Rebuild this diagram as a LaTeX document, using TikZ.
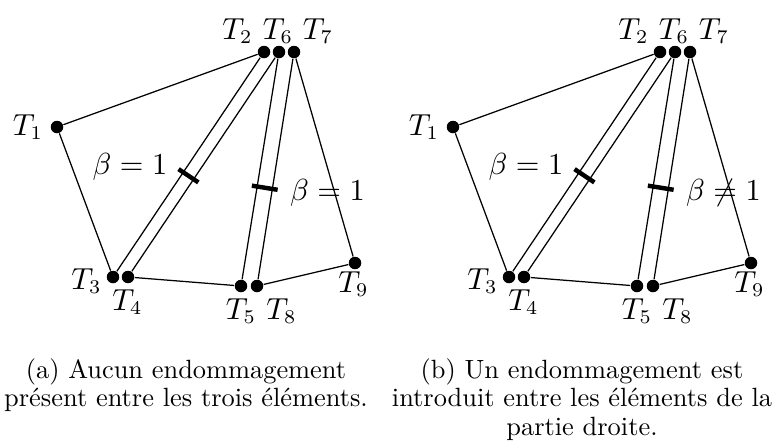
\documentclass[tikz,border=0pt]{standalone}
\usepackage{amsmath, amssymb}
\usepackage{tikz}
\usetikzlibrary{calc}

\tikzset{
  joint/.style={circle, fill=black, inner sep=0pt, minimum size=4.5pt},
  member/.style={line width=0.45pt},
  damagebar/.style={line width=1.6pt},
  ptlabel/.style={inner sep=0pt, font=\fontsize{10.5}{12}\selectfont},
  betalabel/.style={inner sep=0pt, font=\fontsize{11}{13}\selectfont},
  subcap/.style={inner sep=0pt, anchor=north, text width=145pt, align=center,
    font=\fontsize{9.5}{10.2}\selectfont}
}

\begin{document}
\begin{tikzpicture}[x=0.36pt, y=-0.36pt]
  \useasboundingbox (0,0) rectangle (782,441);
  \foreach \p/\dx/\rel/\txt in {a/0/=/{(a) Aucun endommagement\\pr\'esent entre les trois \'el\'ements.},
      b/396/\neq/{(b) Un endommagement est\\introduit entre les \'el\'ements de la\\partie droite.}} {
    \begin{scope}[shift={(\dx,0)}]
      % joints of the truss
      \foreach \n/\x/\y in {1/57/127, 2/264/52, 3/113/277, 4/128/277, 5/241/286,
          6/279/52, 7/294/52, 8/257/286, 9/355/263}
        \node[joint] (\p-T\n) at (\x,\y) {};
      \foreach \n/\x/\y in {1/28/127, 2/237.5/31, 3/86.5/281, 4/127.5/302, 5/241/311,
          6/278/31, 7/318/31, 8/281.5/311, 9/353.5/284}
        \node[ptlabel] (\p-L\n) at (\x,\y) {$T_{\n}$};
      % bars
      \foreach \s/\t in {1/2, 1/3, 2/3, 6/4, 4/5, 6/5, 7/8, 8/9, 7/9}
        \draw[member] (\p-T\s) -- (\p-T\t);
      % damage marks across the two element pairs
      \coordinate (\p-top1) at ($(\p-T2)!0.5!(\p-T6)$);
      \coordinate (\p-bot1) at ($(\p-T3)!0.5!(\p-T4)$);
      \coordinate (\p-mid1) at ($(\p-top1)!0.55!(\p-bot1)$);
      \coordinate (\p-top2) at ($(\p-T6)!0.5!(\p-T7)$);
      \coordinate (\p-bot2) at ($(\p-T5)!0.5!(\p-T8)$);
      \coordinate (\p-mid2) at ($(\p-top2)!0.58!(\p-bot2)$);
      \draw[damagebar] ($(\p-mid1)!4.3pt!90:(\p-bot1)$) -- ($(\p-mid1)!4.3pt!-90:(\p-bot1)$);
      \draw[damagebar] ($(\p-mid2)!4.7pt!90:(\p-bot2)$) -- ($(\p-mid2)!4.7pt!-90:(\p-bot2)$);
      \node[betalabel] (\p-beta1) at (130,167) {$\beta = 1$};
      \node[betalabel] (\p-beta2) at (327.5,193) {$\beta \rel 1$};
      \node[subcap] (\p-cap) at (186,358) {\txt};
    \end{scope}
  }
\end{tikzpicture}
\end{document}
